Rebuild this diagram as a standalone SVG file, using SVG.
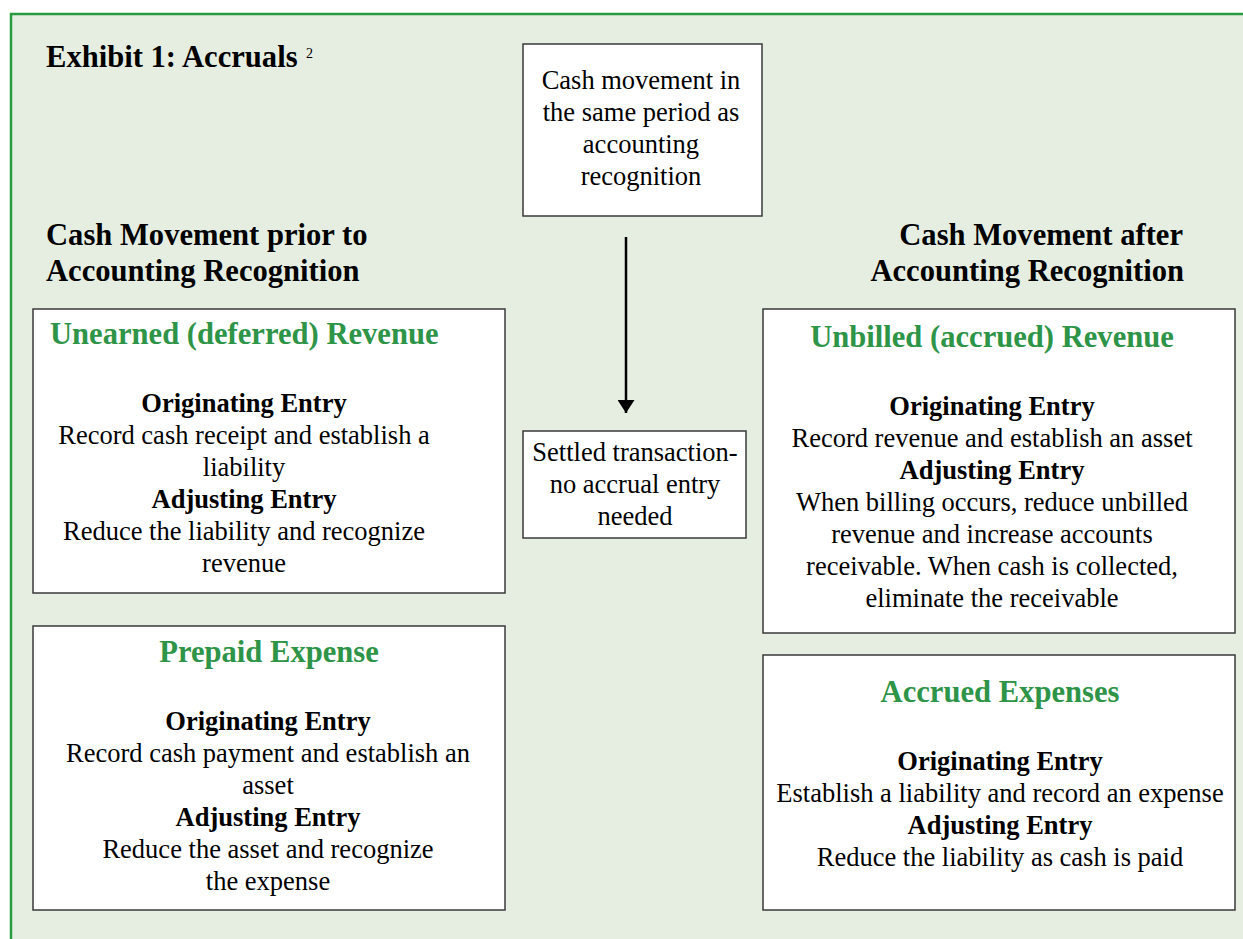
<svg xmlns="http://www.w3.org/2000/svg" width="1243" height="939" viewBox="0 0 1243 939">
<defs>
<style>
text{font-family:"Liberation Serif","Times New Roman",serif;fill:#000}
.b{font-size:26.5px;text-anchor:middle}
.bb{font-size:26.5px;font-weight:bold;text-anchor:middle}
.h{font-size:30.6px;font-weight:bold;fill:#2e9447}
.sec{font-size:30.6px;font-weight:bold}
.box{fill:#fff;stroke:#3a3a3a;stroke-width:1.5}
</style>
<marker id="ah" markerWidth="13" markerHeight="17" refX="13" refY="8.5" orient="auto" markerUnits="userSpaceOnUse">
<path d="M0,0 L13,8.5 L0,17 Z" fill="#000"/>
</marker>
</defs>
<rect x="0" y="0" width="1243" height="939" fill="#fff"/>
<rect x="11" y="14" width="1240" height="940" fill="#e6eee2" stroke="#2a9a40" stroke-width="2.5"/>
<g id="title">
<text x="46" y="67" class="sec">Exhibit 1: Accruals</text>
<text x="306" y="58" style="font-size:14px">2</text>
</g>
<g id="sec-left">
<text x="46" y="245" class="sec">Cash Movement prior to</text>
<text x="46" y="281" class="sec">Accounting Recognition</text>
</g>
<g id="sec-right">
<text x="1183" y="245" class="sec" text-anchor="end">Cash Movement after</text>
<text x="1184" y="281" class="sec" text-anchor="end">Accounting Recognition</text>
</g>
<g id="same-period">
<rect x="523" y="44" width="239" height="172" class="box"/>
<text x="641" y="89" class="b">Cash movement in</text>
<text x="641" y="121" class="b">the same period as</text>
<text x="641" y="153" class="b">accounting</text>
<text x="641" y="185" class="b">recognition</text>
</g>
<g id="settled">
<rect x="523" y="431" width="223" height="107" class="box"/>
<text x="635" y="461" class="b">Settled transaction-</text>
<text x="635" y="493" class="b">no accrual entry</text>
<text x="635" y="525" class="b">needed</text>
</g>
<g id="unearned">
<rect x="33" y="309" width="472" height="284" class="box"/>
<text x="50" y="344" class="h">Unearned (deferred) Revenue</text>
<text x="244" y="412" class="bb">Originating Entry</text>
<text x="244" y="444" class="b">Record cash receipt and establish a</text>
<text x="244" y="476" class="b">liability</text>
<text x="244" y="508" class="bb">Adjusting Entry</text>
<text x="244" y="540" class="b">Reduce the liability and recognize</text>
<text x="244" y="572" class="b">revenue</text>
</g>
<g id="prepaid">
<rect x="33" y="626" width="472" height="284" class="box"/>
<text x="269" y="662" class="h" text-anchor="middle">Prepaid Expense</text>
<text x="268" y="730" class="bb">Originating Entry</text>
<text x="268" y="762" class="b">Record cash payment and establish an</text>
<text x="268" y="794" class="b">asset</text>
<text x="268" y="826" class="bb">Adjusting Entry</text>
<text x="268" y="858" class="b">Reduce the asset and recognize</text>
<text x="268" y="890" class="b">the expense</text>
</g>
<g id="unbilled">
<rect x="763" y="309" width="472" height="324" class="box"/>
<text x="992" y="347" class="h" text-anchor="middle">Unbilled (accrued) Revenue</text>
<text x="992" y="415" class="bb">Originating Entry</text>
<text x="992" y="447" class="b">Record revenue and establish an asset</text>
<text x="992" y="479" class="bb">Adjusting Entry</text>
<text x="992" y="511" class="b">When billing occurs, reduce unbilled</text>
<text x="992" y="543" class="b">revenue and increase accounts</text>
<text x="992" y="575" class="b">receivable. When cash is collected,</text>
<text x="992" y="607" class="b">eliminate the receivable</text>
</g>
<g id="accrued">
<rect x="763" y="655" width="472" height="255" class="box"/>
<text x="1000" y="702" class="h" text-anchor="middle">Accrued Expenses</text>
<text x="1000" y="770" class="bb">Originating Entry</text>
<text x="1000" y="802" class="b">Establish a liability and record an expense</text>
<text x="1000" y="834" class="bb">Adjusting Entry</text>
<text x="1000" y="866" class="b">Reduce the liability as cash is paid</text>
</g>
<g id="connectors">
<line x1="626" y1="237" x2="626" y2="413" stroke="#000" stroke-width="2.5" marker-end="url(#ah)"/>
</g>
</svg>
